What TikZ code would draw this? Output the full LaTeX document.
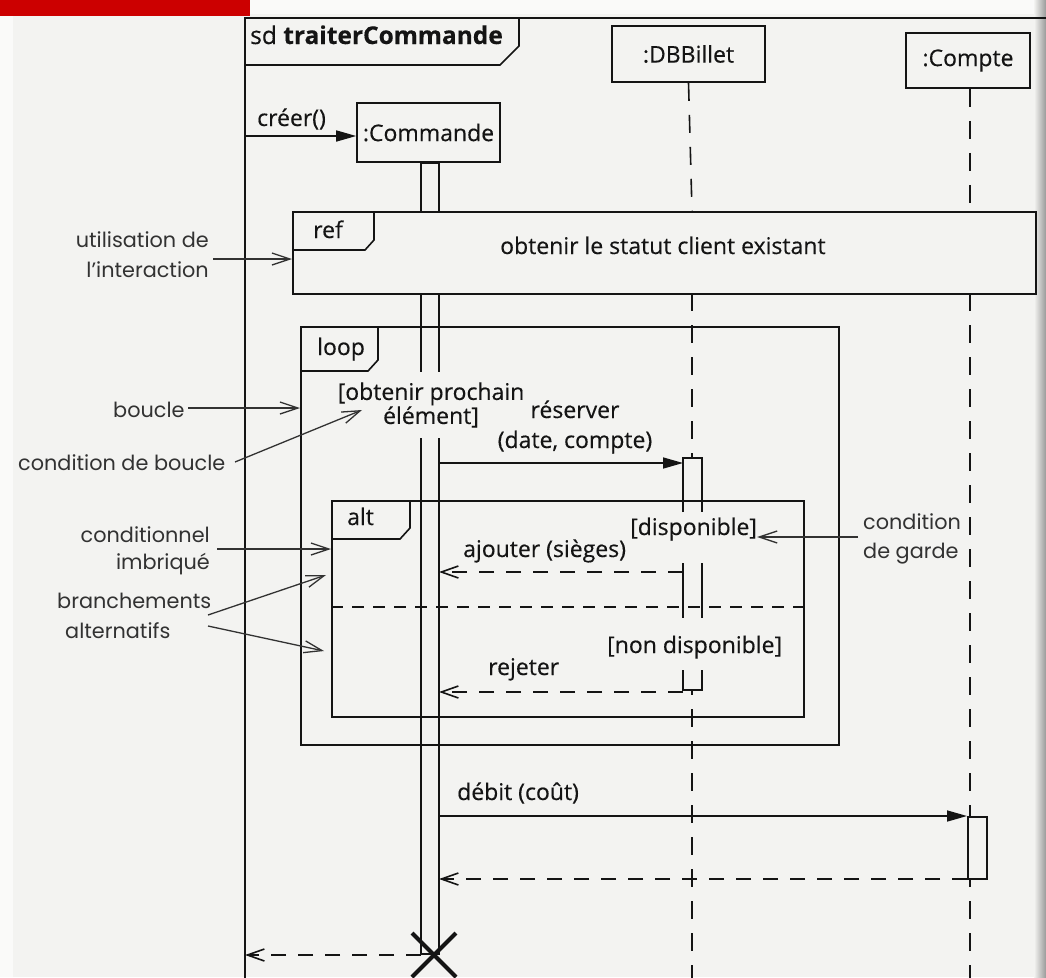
\documentclass[tikz,border=0pt]{standalone}
\usepackage{fontspec}
\newfontfamily\dgm[FakeBold=0.35]{Open Sans}
\newfontfamily\ann{Poppins}
\usetikzlibrary{arrows.meta}
\definecolor{bg}{RGB}{243,243,241}
\definecolor{ink}{RGB}{20,20,20}
\definecolor{anncol}{RGB}{50,50,50}
\definecolor{redbar}{RGB}{204,0,0}
\begin{document}
\begin{tikzpicture}[x=1pt,y=-1pt,
  line/.style={ink, line width=1.6pt},
  sync/.style={line, -{Triangle[length=20pt,width=11pt]}},
  ret/.style={line, dash pattern=on 15pt off 12pt, -{Straight Barb[length=17pt,width=12pt]}},
  annarr/.style={anncol, line width=1.3pt, -{Straight Barb[length=18pt,width=12pt]}},
  life/.style={ink, line width=1.6pt, dash pattern=on 18pt off 14pt},
  dgmfont/.style={font=\dgm\fontsize{23}{28}\selectfont},
  obj/.style={draw=ink, line width=1.6pt, fill=bg, inner sep=0, dgmfont, text=ink},
  frame/.style={draw=ink, line width=1.6pt, inner sep=0, anchor=north west},
  txt/.style={inner sep=0, anchor=base west, text=ink, dgmfont},
  ctxt/.style={inner sep=0, anchor=base, text=ink, dgmfont},
  anntxt/.style={inner sep=0, text=anncol, font=\ann\fontsize{20.8}{24}\selectfont},
]
\useasboundingbox (0,0) rectangle (1046,977);
\clip (0,0) rectangle (1046,977);
% page
\fill[bg] (0,0) rectangle (1046,977);
\fill[white!60!bg] (0,0) rectangle (1046,14);
\fill[white!60!bg] (0,0) rectangle (13,977);
\shade[left color=bg, right color=black!40] (1034,0) rectangle (1046,977);
\fill[redbar] (0,0) rectangle (250,16);

% object boxes
\node[obj, minimum width=153pt, minimum height=56pt] (db) at (688.5,54) {:DBBillet};
\node[obj, minimum width=124pt, minimum height=55pt] (cpt) at (968,60.5) {:Compte};
\node[obj, minimum width=143pt, minimum height=59pt] (cmd) at (428.5,132.5) {:Commande};

% lifelines
\coordinate (dbA) at (692,211);
\coordinate (dbB) at (692,293);
\coordinate (dbEnd) at (692,990);
\coordinate (cpA) at (970,211);
\coordinate (cpB) at (970,293);
\coordinate (cpEnd) at (970,990);
\draw[life] (db.south) -- (dbA);
\draw[life] (dbB) -- (dbEnd);
\draw[life] (cpt.south -| cpA) -- (cpA);
\draw[life] (cpB) -- (cpEnd);

% activation bars
\node[draw=ink, line width=1.6pt, fill=bg, inner sep=0, minimum width=18pt, minimum height=791pt, anchor=north] (cbar) at (430,162) {};
\fill[bg] (683,458) rectangle (702,690);
\draw[line] (683,512) -- (683,458) -- (702,458) -- (702,512);
\draw[line] (683,563) -- (683,618) (702,563) -- (702,618);
\draw[line] (683,670) -- (683,690) -- (702,690) -- (702,670);
\node[draw=ink, line width=1.6pt, fill=bg, inner sep=0, minimum width=19pt, minimum height=62pt, anchor=north west] (cpbar) at (967,816) {};

% sd frame
\draw[line] (245,1000) -- (245,18) -- (1060,18);
\draw[line] (245,65) -- (500,65) -- (519,46) -- (519,18);
\node[txt, font=\dgm\fontsize{24.5}{28}\selectfont] (sdlbl) at (250,44) {sd \textbf{traiterCommande}};

% ref
\node[frame, fill=bg, minimum width=743pt, minimum height=82pt] (ref) at (292,211) {};
\draw[line] (292,250) -- (365,250) -- (374,240) -- (374,211);
\node[txt] (reflbl) at (313,238) {ref};
\node[txt] (reftxt) at (500,254) {obtenir le statut client existant};

% loop
\node[frame, minimum width=538pt, minimum height=418pt] (loop) at (300,326) {};
\draw[line] (300,371) -- (368,371) -- (378,360) -- (378,326);
\node[txt] (looplbl) at (317,355) {loop};
\node[inner sep=0, fill=bg, minimum height=66pt, text=ink, dgmfont, align=center] (guard) at (431,405) {[obtenir prochain\\[-4pt]élément]};

% alt
\node[frame, minimum width=472pt, minimum height=216pt] (alt) at (331,500) {};
\draw[line] (331,539) -- (400,539) -- (410,528) -- (410,500);
\node[txt] (altlbl) at (347,525) {alt};
\draw[line, dash pattern=on 12pt off 9pt] (alt.west |- 0,607) -- (alt.east |- 0,607);
\node[txt, fill=bg] (g1) at (630,535) {[disponible]};
\node[txt, fill=bg] (g2) at (607,653) {[non disponible]};

% messages
\coordinate (c1) at (245,136);
\draw[sync] (c1) -- (cmd.west |- c1);
\node[txt] (m1) at (257,126) {créer()};

\coordinate (r1) at (439,463);
\coordinate (r2) at (683,463);
\draw[sync] (r1) -- (r2);
\node[ctxt] (m2a) at (575,418) {réserver};
\node[ctxt] (m2b) at (575,448) {(date, compte)};

\coordinate (a1) at (683,572);
\coordinate (a2) at (439,572);
\draw[ret] (a1) -- (a2);
\node[txt] (m3) at (463,557) {ajouter (sièges)};

\coordinate (j1) at (683,692);
\coordinate (j2) at (439,692);
\draw[ret] (j1) -- (j2);
\node[txt] (m4) at (488,675) {rejeter};

\coordinate (d1) at (439,816);
\draw[sync] (d1) -- (cpbar.north west);
\node[txt] (m5) at (457,800) {débit (coût)};

\coordinate (e1) at (967,879);
\coordinate (e2) at (439,879);
\draw[ret] (e1) -- (e2);

\coordinate (f1) at (421,955);
\coordinate (f2) at (245,955);
\draw[ret] (f1) -- (f2);

% destruction
\draw[ink, line width=4.2pt] (412,933) -- (456,977) (412,977) -- (456,933);

% annotations
\node[anntxt, anchor=base east] (u1) at (209,247) {utilisation de};
\node[anntxt, anchor=base east] (u2) at (209,277) {l’interaction};
\coordinate (u0) at (213,259);
\draw[annarr] (u0) -- (ref.west |- u0);

\node[anntxt, anchor=base west] (b1) at (113,417) {boucle};
\coordinate (b0) at (188,408);
\draw[annarr] (b0) -- (loop.west |- b0);

\node[anntxt, anchor=base west] (cb) at (18,470) {condition de boucle};
\coordinate (cb0) at (235,462);
\coordinate (cb1) at (362,410);
\draw[annarr] (cb0) -- (cb1);

\node[anntxt, anchor=base east] (ci1) at (210,542) {conditionnel};
\node[anntxt, anchor=base east] (ci2) at (210,569) {imbriqué};
\coordinate (ci0) at (217,549);
\draw[annarr] (ci0) -- (alt.west |- ci0);

\node[anntxt, anchor=base west] (br1) at (57,608) {branchements};
\node[anntxt, anchor=base west] (br2) at (65,638) {alternatifs};
\coordinate (br0) at (208,615);
\coordinate (br0b) at (208,626);
\coordinate (bra) at (326,575);
\coordinate (brb) at (324,651);
\draw[annarr] (br0) -- (bra);
\draw[annarr] (br0b) -- (brb);

\node[anntxt, anchor=base west] (cg1) at (863,529) {condition};
\node[anntxt, anchor=base west] (cg2) at (863,558) {de garde};
\coordinate (cg0) at (858,537);
\draw[annarr] (cg0) -- (g1.east |- cg0);
\end{tikzpicture}
\end{document}
